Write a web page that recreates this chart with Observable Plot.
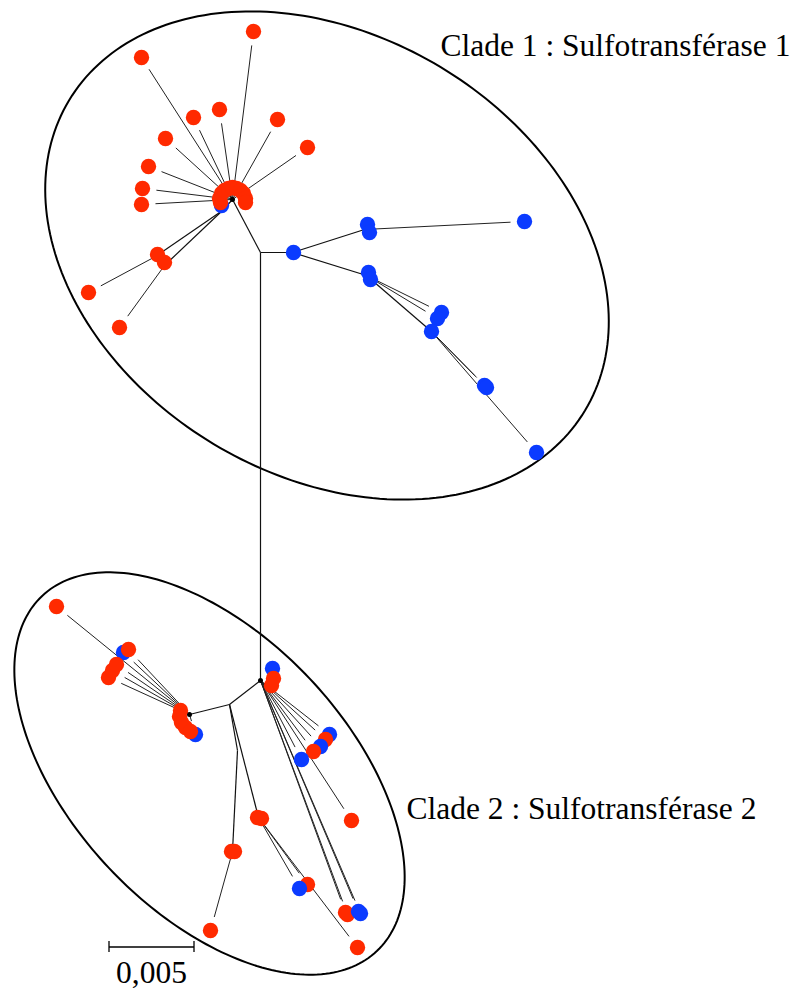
<!DOCTYPE html>
<html>
<head>
<meta charset="utf-8">
<script src="https://cdn.jsdelivr.net/npm/d3@7"></script>
<script src="https://cdn.jsdelivr.net/npm/@observablehq/plot@0.6"></script>
<style>
  html, body { margin: 0; padding: 0; background: #fff; }
  #chart svg { display: block; }
</style>
</head>
<body>
<div id="chart"></div>
<script>
// ---- Tree layout (unrooted tree, layout units; 85 units = 0.005 substitutions/site) ----
const nodeNames = ["A", "A2", "B1", "B2", "C", "D", "U", "L", "M", "G", "H", "I", "J", "N", "K"];
const nodeX     = [232, 222, 155, 164, 260, 292, 364, 366, 431, 260, 229, 189, 237, 232, 258];
const nodeY     = [199, 210, 256, 265, 252, 252, 229, 275, 331, 680, 704, 714, 750, 851, 817];

const edgeFrom = ["A",  "A2", "A2", "A", "C", "D", "D", "L", "C", "G", "H", "H", "J", "H"];
const edgeTo   = ["A2", "B1", "B2", "C", "D", "U", "L", "M", "G", "H", "I", "J", "N", "K"];

// tips: [parent node, x, y, group]  (r = red sequences, b = blue sequences)
const tipsClade1 = [
  ["A", 253, 31, "r"], ["A", 141, 57, "r"], ["A", 193, 117, "r"], ["A", 219, 109, "r"],
  ["A", 277, 119, "r"], ["A", 307, 147, "r"], ["A", 165, 138, "r"], ["A", 148, 166, "r"],
  ["A", 142, 188, "r"], ["A", 141, 204, "r"],
  ["A", 221, 205, "b"], ["A", 220, 202, "r"], ["A", 219, 198, "r"], ["A", 221, 193, "r"],
  ["A", 224, 190, "r"], ["A", 228, 188, "r"], ["A", 232, 187, "r"], ["A", 236, 188, "r"],
  ["A", 240, 190, "r"], ["A", 243, 193, "r"], ["A", 245, 198, "r"], ["A", 245, 202, "r"],
  ["B1", 157, 254, "r"], ["B2", 164, 262, "r"], ["B1", 88, 292, "r"], ["B2", 119, 327, "r"],
  ["D", 293, 252, "b"],
  ["U", 367, 224, "b"], ["U", 369, 232, "b"], ["U", 524, 221, "b"],
  ["L", 368, 272, "b"], ["L", 370, 279, "b"], ["L", 441, 312, "b"], ["L", 437, 318, "b"],
  ["M", 431, 331, "b"], ["M", 484, 385, "b"], ["M", 486, 387, "b"], ["M", 536, 452, "b"]
];
const tipsClade2 = [
  ["G", 272, 668, "b"], ["G", 273, 678, "r"], ["G", 271, 685, "r"],
  ["G", 329, 734, "b"], ["G", 325, 739, "r"], ["G", 320, 746, "b"], ["G", 313, 751, "r"],
  ["G", 301, 759, "b"], ["G", 351, 820, "r"],
  ["G", 345, 912, "r"], ["G", 347, 914, "r"], ["G", 358, 911, "b"], ["G", 360, 913, "b"],
  ["I", 180, 710, "r"], ["I", 179, 716, "r"], ["I", 195, 734, "b"], ["I", 181, 722, "r"],
  ["I", 185, 727, "r"], ["I", 190, 731, "r"],
  ["I", 56, 606, "r"], ["I", 123, 652, "b"], ["I", 128, 649, "r"],
  ["I", 108, 677, "r"], ["I", 112, 670, "r"], ["I", 116, 664, "r"],
  ["N", 231, 851, "r"], ["N", 234, 851, "r"], ["N", 210, 930, "r"],
  ["K", 257, 817, "r"], ["K", 261, 818, "r"], ["K", 307, 884, "r"], ["K", 299, 888, "b"], ["K", 357, 947, "r"]
];

const hubNodes = ["A", "G", "I"];

// clade ellipses: [label, centre x, centre y, semi-major, semi-minor, tilt (deg)]
const clades = [
  ["Clade 1 : Sulfotransférase 1", 326.5, 255, 301, 220, 31],
  ["Clade 2 : Sulfotransférase 2", 209, 773, 244, 138, 46.7]
];
const cladeLabelX = [440, 406];
const cladeLabelY = [55, 818];

// scale bar
const scaleBarValue = 0.005;
const scaleBarLabel = "0,005";
const unitsPerSubst = 17000;   // layout units per substitution/site
const scaleBarX0 = 108.5, scaleBarY = 946.5;

const groupDomain = ["r", "b"];
const groupColors = ["#ff2a00", "#0b3bff"];

// ---- build tables ----
const pos = new Map(nodeNames.map((n, i) => [n, {x: nodeX[i], y: nodeY[i]}]));
const internalLinks = edgeFrom.map((f, i) => ({
  x1: pos.get(f).x, y1: pos.get(f).y, x2: pos.get(edgeTo[i]).x, y2: pos.get(edgeTo[i]).y
}));
const tips = [...tipsClade1, ...tipsClade2].map(([p, x, y, g]) => ({parent: p, x, y, group: g}));
const GAP = 14;
const tipLinks = tips.map(t => {
  const p = pos.get(t.parent);
  const dx = t.x - p.x, dy = t.y - p.y, d = Math.hypot(dx, dy);
  if (d < GAP + 4) return null;
  return {x1: p.x, y1: p.y, x2: t.x - dx / d * GAP, y2: t.y - dy / d * GAP};
}).filter(Boolean);

const ellipsePts = [];
clades.forEach(([label, cx, cy, a, b, deg]) => {
  const th = deg * Math.PI / 180;
  for (let k = 0; k < 240; k++) {
    const t = k / 240 * 2 * Math.PI;
    const ex = a * Math.cos(t), ey = b * Math.sin(t);
    ellipsePts.push({clade: label,
      x: cx + ex * Math.cos(th) - ey * Math.sin(th),
      y: cy + ex * Math.sin(th) + ey * Math.cos(th)});
  }
});
const labels = clades.map((c, i) => ({text: c[0], x: cladeLabelX[i], y: cladeLabelY[i]}));
const barLen = scaleBarValue * unitsPerSubst;
const bar = [{x1: scaleBarX0, x2: scaleBarX0 + barLen, y: scaleBarY}];
const barEnds = [scaleBarX0, scaleBarX0 + barLen];
const hubs = hubNodes.map(n => pos.get(n));

const serif = "'Liberation Serif', 'Times New Roman', serif";

const chart = Plot.plot({
  width: 796,
  height: 988,
  margin: 0,
  x: {domain: [0, 796], range: [0, 796], axis: null},
  y: {domain: [0, 988], range: [0, 988], axis: null},
  color: {domain: groupDomain, range: groupColors},
  style: {background: "#fff"},
  marks: [
    Plot.line(ellipsePts, {x: "x", y: "y", z: "clade", curve: "linear-closed", stroke: "#000", strokeWidth: 2}),
    Plot.link(internalLinks, {x1: "x1", y1: "y1", x2: "x2", y2: "y2", stroke: "#111", strokeWidth: 1.2}),
    Plot.link(tipLinks, {x1: "x1", y1: "y1", x2: "x2", y2: "y2", stroke: "#222", strokeWidth: 1}),
    Plot.dot(hubs, {x: "x", y: "y", r: 2.5, fill: "#000"}),
    Plot.dot(tips, {x: "x", y: "y", r: 7.7, fill: "group", stroke: null}),
    Plot.text(labels, {x: "x", y: "y", text: "text", textAnchor: "start", lineAnchor: "bottom",
      fontSize: 31.5, fontFamily: serif, fill: "#000"}),
    Plot.link(bar, {x1: "x1", x2: "x2", y1: "y", y2: "y", stroke: "#000", strokeWidth: 1.3}),
    Plot.ruleX(barEnds, {x: d => d, y1: scaleBarY - 5.5, y2: scaleBarY + 5.5, stroke: "#000", strokeWidth: 1.3}),
    Plot.text([scaleBarLabel], {x: scaleBarX0 + barLen / 2, y: 982, text: d => d, textAnchor: "middle",
      lineAnchor: "bottom", fontSize: 31.5, fontFamily: serif, fill: "#000"})
  ]
});
document.getElementById("chart").appendChild(chart);
</script>
</body>
</html>
